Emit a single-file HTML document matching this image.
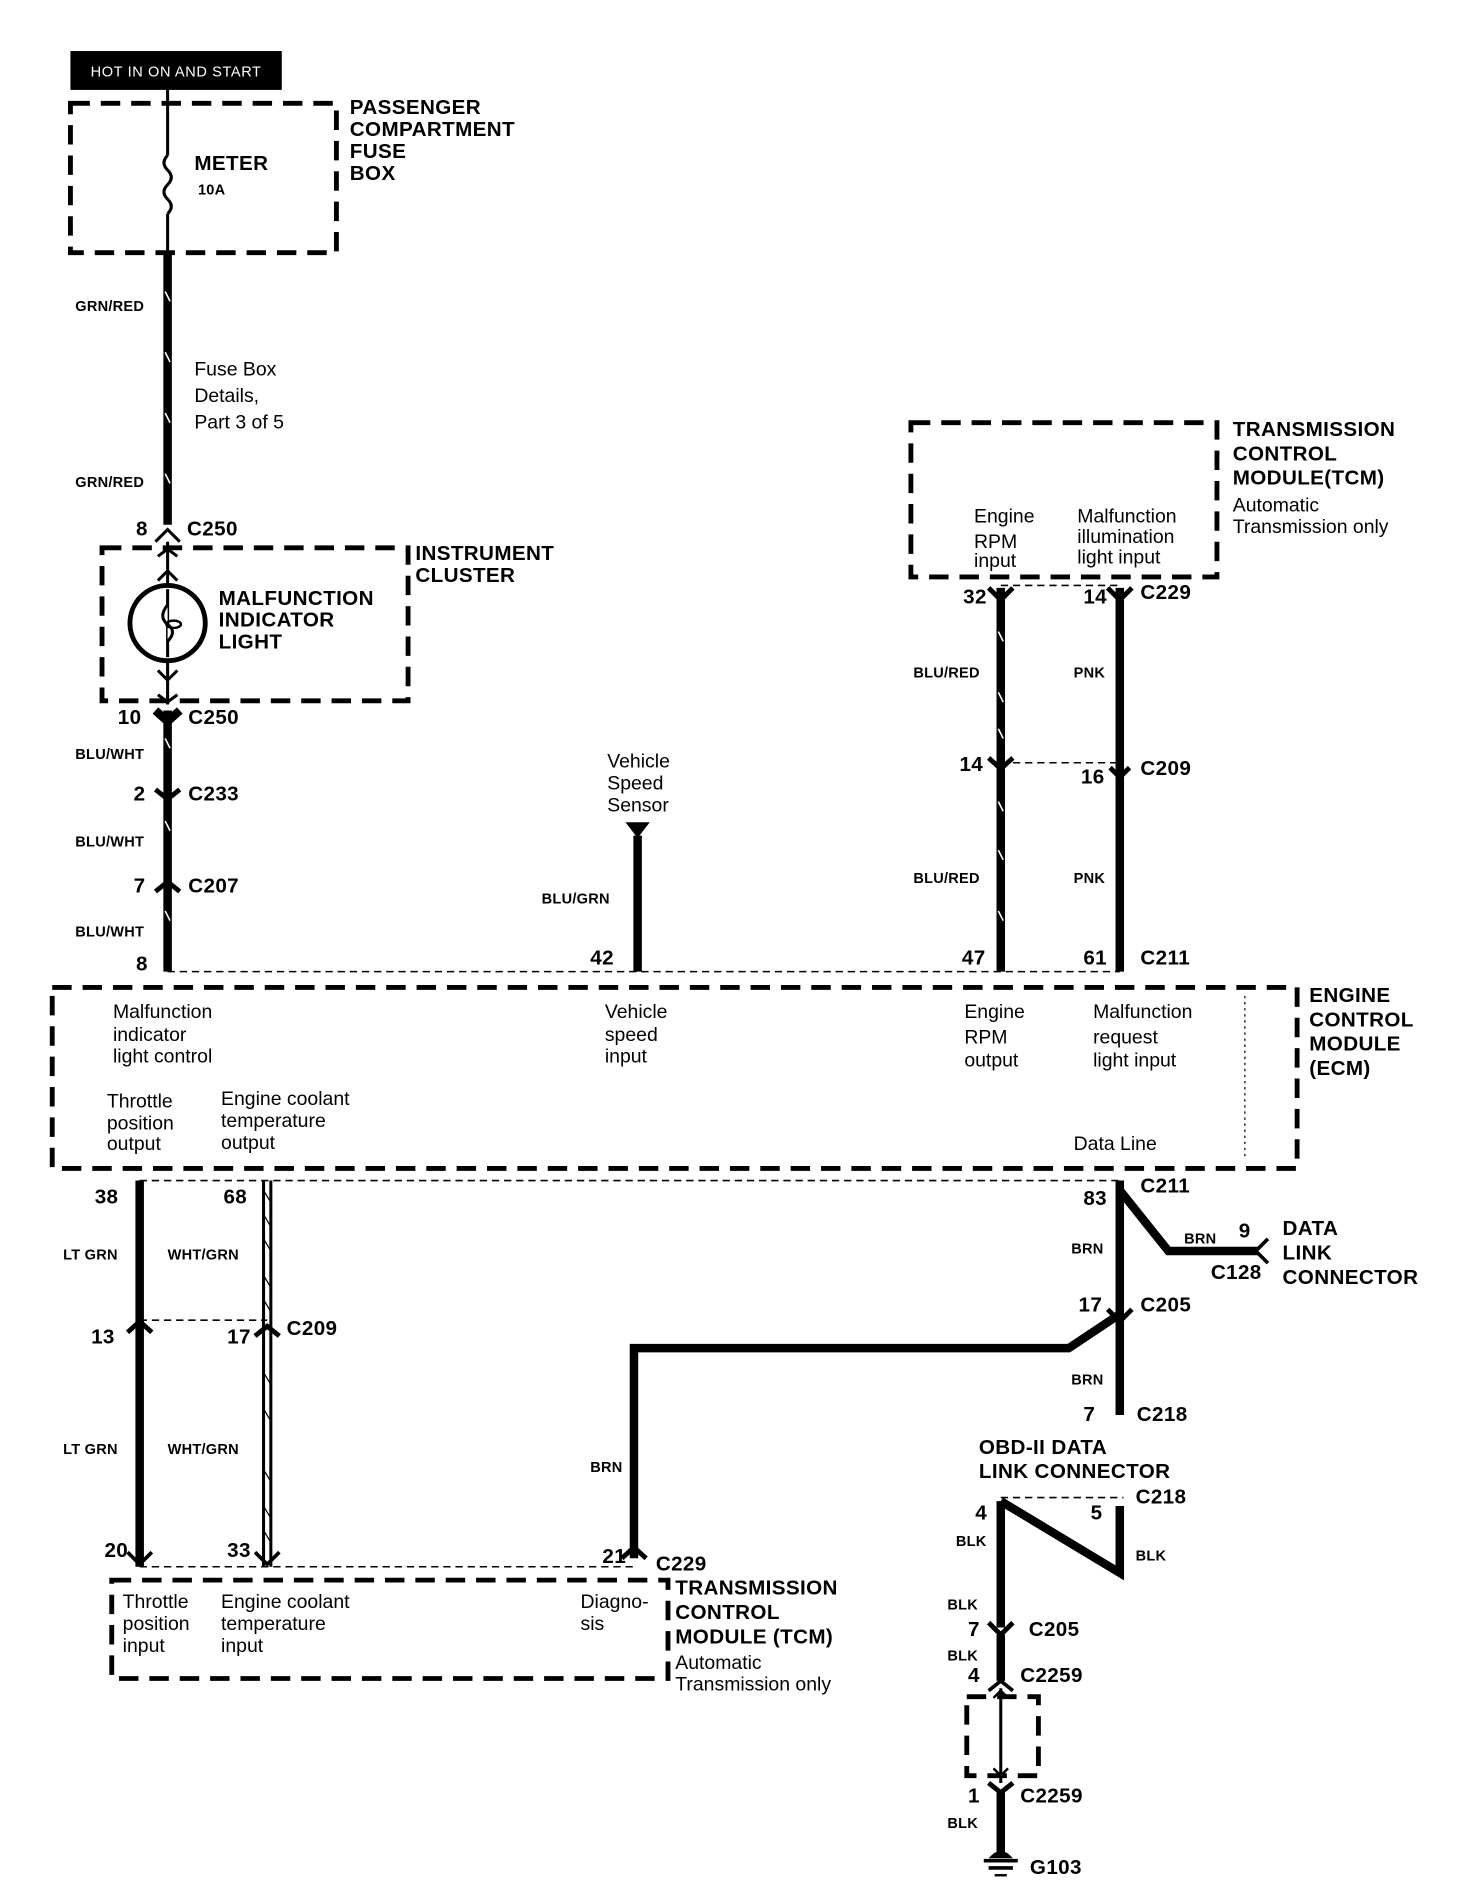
<!DOCTYPE html>
<html><head><meta charset="utf-8"><style>
html,body{margin:0;padding:0;background:#fff}
svg{display:block}
text{font-family:"Liberation Sans",Arial,sans-serif;fill:#000}
.b{font-weight:bold;font-size:17px;letter-spacing:0.3px}
.s{font-weight:bold;font-size:12px;letter-spacing:0.2px}
.r{font-size:16px}
.dash{fill:none;stroke:#000;stroke-width:4;stroke-dasharray:16,9}
.thin{fill:none;stroke:#000;stroke-width:1.3;stroke-dasharray:6,4}
.w{fill:none;stroke:#000;stroke-width:7}
.ws{fill:none;stroke:#000;stroke-width:2.5}
</style></head><body>
<svg width="1472" height="1902" viewBox="0 0 1212 1566" xmlns="http://www.w3.org/2000/svg">
<rect x="0" y="0" width="1212" height="1566" fill="#fff"/>
<rect x="58" y="42" width="174" height="32" fill="#000"/>
<text x="145" y="63" text-anchor="middle" style="font-size:12px;fill:#fff;letter-spacing:0.5px">HOT IN ON AND START</text>
<rect x="58" y="85" width="219" height="123" class="dash"/>
<text class="b"><tspan x="288" y="94">PASSENGER</tspan><tspan x="288" y="112">COMPARTMENT</tspan><tspan x="288" y="130">FUSE</tspan><tspan x="288" y="148">BOX</tspan></text>
<text class="b" x="160" y="140">METER</text>
<text class="s" x="163" y="160">10A</text>
<line x1="138" y1="74" x2="138" y2="128" class="ws"/>
<path d="M138 128 q-6 6 0 12 q6 6 0 12 q-6 6 0 12 q6 6 0 12" class="ws"/>
<line x1="138" y1="176" x2="138" y2="208" class="ws"/>
<line x1="138" y1="208" x2="138" y2="432" class="w"/>
<g stroke="#fff" stroke-width="1.3"><line x1="136" y1="240" x2="140" y2="248"/><line x1="136" y1="290" x2="140" y2="298"/><line x1="136" y1="340" x2="140" y2="348"/><line x1="136" y1="390" x2="140" y2="398"/></g>
<text class="s" x="62" y="256">GRN/RED</text>
<text class="s" x="62" y="401">GRN/RED</text>
<text class="r"><tspan x="160" y="309">Fuse Box</tspan><tspan x="160" y="331">Details,</tspan><tspan x="160" y="353">Part 3 of 5</tspan></text>
<text class="b" x="112" y="441">8</text><text class="b" x="154" y="441">C250</text>
<path d="M128 446 L138 436 L148 446" class="ws"/>
<rect x="84" y="451" width="252" height="126" class="dash"/>
<text class="b"><tspan x="342" y="461">INSTRUMENT</tspan><tspan x="342" y="479">CLUSTER</tspan></text>
<line x1="138" y1="446" x2="138" y2="580" class="ws"/>
<path d="M130 478 L138 470 L146 478 M130 458 L138 452 L146 458 M130 496 L138 488 L146 496 M130 532 L138 540 L146 532 M130 552 L138 560 L146 552 M130 572 L138 578 L146 572" class="ws"/>
<circle cx="138" cy="513" r="31" fill="#fff" stroke="#000" stroke-width="4"/>
<line x1="138" y1="485" x2="138" y2="541" class="ws"/>
<path d="M138 498 q-8 10 0 16 q8 6 0 14" fill="#fff" stroke="#000" stroke-width="2.5"/>
<ellipse cx="143" cy="514" rx="6" ry="3" fill="none" stroke="#000" stroke-width="2"/>
<text class="b"><tspan x="180" y="498">MALFUNCTION</tspan><tspan x="180" y="516">INDICATOR</tspan><tspan x="180" y="534">LIGHT</tspan></text>
<line x1="138" y1="585" x2="138" y2="800" class="w"/>
<g stroke="#fff" stroke-width="1.3"><line x1="136" y1="608" x2="140" y2="616"/><line x1="136" y1="676" x2="140" y2="684"/><line x1="136" y1="750" x2="140" y2="758"/></g>
<path d="M128 585 L138 594 L148 585" class="w" stroke-width="4"/>
<text class="b" x="97" y="596">10</text><text class="b" x="155" y="596">C250</text>
<text class="s" x="62" y="625">BLU/WHT</text>
<path d="M128 650 L138 658 L148 650" fill="none" stroke="#000" stroke-width="4"/>
<text class="b" x="110" y="659">2</text><text class="b" x="155" y="659">C233</text>
<text class="s" x="62" y="697">BLU/WHT</text>
<path d="M128 734 L138 726 L148 734" fill="none" stroke="#000" stroke-width="4"/>
<text class="b" x="110" y="735">7</text><text class="b" x="155" y="735">C207</text>
<text class="s" x="62" y="771">BLU/WHT</text>
<text class="b" x="112" y="799">8</text>
<text class="r"><tspan x="500" y="632">Vehicle</tspan><tspan x="500" y="650">Speed</tspan><tspan x="500" y="668">Sensor</tspan></text>
<path d="M515 677 L535 677 L525 690 Z" fill="#000"/>
<line x1="525" y1="688" x2="525" y2="800" class="w"/>
<text class="s" x="446" y="744">BLU/GRN</text>
<text class="b" x="486" y="794">42</text>
<rect x="750" y="348" width="252" height="127" class="dash"/>
<text class="b"><tspan x="1015" y="359">TRANSMISSION</tspan><tspan x="1015" y="379">CONTROL</tspan><tspan x="1015" y="399">MODULE(TCM)</tspan></text>
<text class="r"><tspan x="1015" y="421">Automatic</tspan><tspan x="1015" y="439">Transmission only</tspan></text>
<text class="r"><tspan x="802" y="430">Engine</tspan><tspan x="802" y="451">RPM</tspan><tspan x="802" y="467">input</tspan></text>
<text class="r"><tspan x="887" y="430">Malfunction</tspan><tspan x="887" y="447">illumination</tspan><tspan x="887" y="464">light input</tspan></text>
<line x1="824" y1="482" x2="922" y2="482" class="thin"/>
<line x1="824" y1="484" x2="824" y2="800" class="w"/>
<g stroke="#fff" stroke-width="1.3"><line x1="822" y1="520" x2="826" y2="528"/><line x1="822" y1="570" x2="826" y2="578"/><line x1="822" y1="600" x2="826" y2="608"/><line x1="822" y1="660" x2="826" y2="668"/><line x1="822" y1="700" x2="826" y2="708"/><line x1="822" y1="750" x2="826" y2="758"/></g>
<line x1="922" y1="484" x2="922" y2="800" class="w"/>
<path d="M814 484 L824 494 L834 484 M912 484 L922 494 L932 484" fill="none" stroke="#000" stroke-width="4"/>
<text class="b" x="793" y="497">32</text><text class="b" x="892" y="497">14</text><text class="b" x="939" y="493">C229</text>
<text class="s" x="752" y="558">BLU/RED</text><text class="s" x="884" y="558">PNK</text>
<line x1="824" y1="628" x2="922" y2="628" class="thin"/>
<path d="M814 624 L824 633 L834 624 M914 632 L922 640 L930 632" fill="none" stroke="#000" stroke-width="4"/>
<text class="b" x="790" y="635">14</text><text class="b" x="890" y="645">16</text><text class="b" x="939" y="638">C209</text>
<text class="s" x="752" y="727">BLU/RED</text><text class="s" x="884" y="727">PNK</text>
<text class="b" x="792" y="794">47</text><text class="b" x="892" y="794">61</text><text class="b" x="939" y="794">C211</text>
<line x1="138" y1="800" x2="922" y2="800" class="thin"/>
<rect x="43" y="813" width="1025" height="149" class="dash"/>
<line x1="1025" y1="820" x2="1025" y2="955" stroke="#000" stroke-width="1" stroke-dasharray="2,3"/>
<text class="b"><tspan x="1078" y="825">ENGINE</tspan><tspan x="1078" y="845">CONTROL</tspan><tspan x="1078" y="865">MODULE</tspan><tspan x="1078" y="885">(ECM)</tspan></text>
<text class="r"><tspan x="93" y="838">Malfunction</tspan><tspan x="93" y="857">indicator</tspan><tspan x="93" y="875">light control</tspan></text>
<text class="r"><tspan x="498" y="838">Vehicle</tspan><tspan x="498" y="857">speed</tspan><tspan x="498" y="875">input</tspan></text>
<text class="r"><tspan x="794" y="838">Engine</tspan><tspan x="794" y="859">RPM</tspan><tspan x="794" y="878">output</tspan></text>
<text class="r"><tspan x="900" y="838">Malfunction</tspan><tspan x="900" y="859">request</tspan><tspan x="900" y="878">light input</tspan></text>
<text class="r"><tspan x="88" y="912">Throttle</tspan><tspan x="88" y="930">position</tspan><tspan x="88" y="947">output</tspan></text>
<text class="r"><tspan x="182" y="910">Engine coolant</tspan><tspan x="182" y="928">temperature</tspan><tspan x="182" y="946">output</tspan></text>
<text class="r" x="884" y="947">Data Line</text>
<line x1="115" y1="972" x2="922" y2="972" class="thin"/>
<line x1="115" y1="972" x2="115" y2="1290" class="w"/>
<line x1="217" y1="972" x2="217" y2="1290" class="ws" stroke-width="1.5"/>
<line x1="223" y1="972" x2="223" y2="1290" class="ws" stroke-width="1.5"/>
<path d="M217 980 L223 990 M217 1000 L223 1010 M217 1020 L223 1030 M217 1050 L223 1060 M217 1070 L223 1080 M217 1130 L223 1140 M217 1160 L223 1170 M217 1210 L223 1220 M217 1240 L223 1250 M217 1260 L223 1270" stroke="#000" stroke-width="1"/>
<text class="b" x="78" y="991">38</text><text class="b" x="184" y="991">68</text>
<text class="s" x="52" y="1037">LT GRN</text><text class="s" x="138" y="1037">WHT/GRN</text>
<line x1="115" y1="1087" x2="220" y2="1087" class="thin"/>
<path d="M105 1097 L115 1088 L125 1097 M210 1100 L220 1092 L230 1100" fill="none" stroke="#000" stroke-width="4"/>
<text class="b" x="75" y="1106">13</text><text class="b" x="187" y="1106">17</text><text class="b" x="236" y="1099">C209</text>
<text class="s" x="52" y="1197">LT GRN</text><text class="s" x="138" y="1197">WHT/GRN</text>
<text class="b" x="86" y="1282">20</text><text class="b" x="187" y="1282">33</text>
<line x1="922" y1="972" x2="922" y2="1165" class="w"/>
<path d="M922 980 L962 1030 L1036 1030" class="w"/>
<path d="M1044 1020 L1034 1030 L1044 1040" fill="none" stroke="#000" stroke-width="3"/>
<text class="b" x="892" y="992">83</text><text class="b" x="939" y="982">C211</text>
<text class="s" x="882" y="1032">BRN</text><text class="s" x="975" y="1024">BRN</text>
<text class="b" x="1020" y="1019">9</text><text class="b" x="997" y="1053">C128</text>
<text class="b"><tspan x="1056" y="1017">DATA</tspan><tspan x="1056" y="1037">LINK</tspan><tspan x="1056" y="1057">CONNECTOR</tspan></text>
<path d="M912 1078 L922 1088 L932 1078" fill="none" stroke="#000" stroke-width="4"/>
<text class="b" x="888" y="1080">17</text><text class="b" x="939" y="1080">C205</text>
<path d="M922 1082 L880 1110 L522 1110 L522 1283" class="w"/>
<text class="s" x="486" y="1212">BRN</text>
<text class="s" x="882" y="1140">BRN</text>
<text class="b" x="892" y="1170">7</text><text class="b" x="936" y="1170">C218</text>
<path d="M512 1283 L522 1274 L532 1283" fill="none" stroke="#000" stroke-width="4"/>
<path d="M105 1278 L115 1288 L125 1278 M210 1278 L220 1288 L230 1278" fill="none" stroke="#000" stroke-width="3"/>
<line x1="115" y1="1290" x2="522" y2="1290" class="thin"/>
<text class="b" x="496" y="1287">21</text><text class="b" x="540" y="1293">C229</text>
<rect x="92" y="1301" width="458" height="81" class="dash"/>
<text class="b"><tspan x="556" y="1313">TRANSMISSION</tspan><tspan x="556" y="1333">CONTROL</tspan><tspan x="556" y="1353">MODULE  (TCM)</tspan></text>
<text class="r"><tspan x="556" y="1374">Automatic</tspan><tspan x="556" y="1392">Transmission only</tspan></text>
<text class="r"><tspan x="101" y="1324">Throttle</tspan><tspan x="101" y="1342">position</tspan><tspan x="101" y="1360">input</tspan></text>
<text class="r"><tspan x="182" y="1324">Engine coolant</tspan><tspan x="182" y="1342">temperature</tspan><tspan x="182" y="1360">input</tspan></text>
<text class="r"><tspan x="478" y="1324">Diagno-</tspan><tspan x="478" y="1342">sis</tspan></text>
<text class="b"><tspan x="806" y="1197">OBD-II  DATA</tspan><tspan x="806" y="1217">LINK CONNECTOR</tspan></text>
<line x1="824" y1="1233" x2="925" y2="1233" class="thin" stroke-width="2"/>
<path d="M824 1236 L922 1295 L922 1240" class="w"/>
<text class="b" x="803" y="1251">4</text><text class="b" x="898" y="1251">5</text><text class="b" x="935" y="1238">C218</text>
<text class="s" x="787" y="1273">BLK</text><text class="s" x="935" y="1285">BLK</text>
<line x1="824" y1="1236" x2="824" y2="1340" class="w"/>
<text class="s" x="780" y="1325">BLK</text>
<path d="M814 1336 L824 1346 L834 1336" fill="none" stroke="#000" stroke-width="4"/>
<text class="b" x="797" y="1347">7</text><text class="b" x="847" y="1347">C205</text>
<line x1="824" y1="1346" x2="824" y2="1384" class="w"/>
<text class="s" x="780" y="1367">BLK</text>
<text class="b" x="797" y="1385">4</text><text class="b" x="840" y="1385">C2259</text>
<path d="M814 1392 L824 1384 L834 1392" fill="none" stroke="#000" stroke-width="3"/>
<rect x="796" y="1397" width="59" height="65" class="dash" stroke-width="3"/>
<line x1="824" y1="1390" x2="824" y2="1468" class="ws" stroke-width="2"/>
<path d="M818 1398 L824 1392 L830 1398 M818 1456 L824 1462 L830 1456" fill="none" stroke="#000" stroke-width="2"/>
<path d="M814 1468 L824 1476 L834 1468" fill="none" stroke="#000" stroke-width="4"/>
<text class="b" x="797" y="1484">1</text><text class="b" x="840" y="1484">C2259</text>
<line x1="824" y1="1474" x2="824" y2="1528" class="w"/>
<text class="s" x="780" y="1505">BLK</text>
<path d="M814 1530 Q824 1518 834 1530 Z" fill="#000"/>
<line x1="810" y1="1532" x2="838" y2="1532" stroke="#000" stroke-width="3"/>
<line x1="814" y1="1538" x2="834" y2="1538" stroke="#000" stroke-width="3"/>
<line x1="819" y1="1544" x2="829" y2="1544" stroke="#000" stroke-width="2"/>
<text class="b" x="848" y="1543">G103</text>
</svg>
</body></html>
